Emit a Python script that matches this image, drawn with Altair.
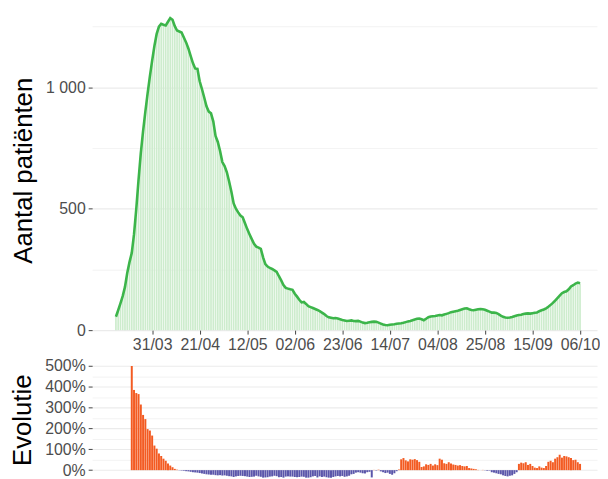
import altair as alt
import pandas as pd

START_DATE = "2020-03-15"

# Number of ICU patients per day
icu = [
    55, 82, 110, 140, 178, 235, 280, 318, 395, 500,
    620, 730, 820, 900, 975, 1045, 1110, 1170, 1220, 1250,
    1262, 1258, 1255, 1270, 1285, 1278, 1252, 1234, 1230, 1226,
    1205, 1185, 1160, 1130, 1100, 1078, 1076, 1025, 993, 958,
    922, 900, 893, 860, 800, 775, 738, 692, 676, 650,
    612, 570, 522, 500, 485, 472, 465, 440, 416, 395,
    375, 356, 344, 340, 335, 300, 272, 262, 256, 252,
    246, 240, 222, 205, 186, 174, 171, 168, 166, 150,
    138, 125, 114, 116, 108, 99, 95, 91, 87, 83,
    78, 72, 66, 58, 53, 51, 49, 50, 48, 45,
    42, 40, 38, 39, 40, 38, 37, 38, 35, 31,
    29, 30, 32, 34, 35, 34, 31, 27, 23, 21,
    20, 22, 23, 24, 26, 27, 28, 30, 33, 36,
    38, 41, 44, 47, 48, 45, 41, 47, 53, 56,
    57, 58, 60, 62, 61, 64, 67, 70, 74, 76,
    78, 80, 83, 86, 89, 90, 86, 83, 82, 84,
    86, 87, 86, 84, 80, 76, 72, 72, 71, 66,
    60, 55, 52, 51, 52, 54, 57, 60, 62, 63,
    66, 68, 69, 68, 70, 72, 73, 78, 82, 85,
    90, 96, 104, 112, 122, 132, 142, 152, 157, 160,
    168, 180, 185, 192, 196, 193,
]

# Evolution (fraction)
evolution = [
    None, None, None, None, None, None, None, 5.00, 3.85, 3.70,
    3.65, 3.15, 2.65, 2.45, 1.97, 1.90, 1.66, 1.18, 1.03, 0.80,
    0.68, 0.55, 0.45, 0.32, 0.22, 0.14, 0.06, 0.02, -0.01, -0.02,
    -0.03, -0.05, -0.06, -0.08, -0.10, -0.11, -0.12, -0.14, -0.16, -0.18,
    -0.20, -0.21, -0.22, -0.22, -0.24, -0.25, -0.24, -0.26, -0.25, -0.27,
    -0.29, -0.30, -0.33, -0.30, -0.28, -0.27, -0.28, -0.29, -0.31, -0.33,
    -0.32, -0.31, -0.27, -0.30, -0.32, -0.36, -0.35, -0.34, -0.31, -0.30,
    -0.27, -0.29, -0.34, -0.33, -0.36, -0.31, -0.30, -0.31, -0.31, -0.33,
    -0.34, -0.33, -0.31, -0.32, -0.37, -0.36, -0.34, -0.30, -0.28, -0.35,
    -0.30, -0.33, -0.31, -0.34, -0.38, -0.36, -0.33, -0.30, -0.28, -0.30,
    -0.28, -0.32, -0.30, -0.27, -0.20, -0.18, -0.12, -0.10, -0.12, -0.15,
    -0.16, -0.10, -0.08, -0.35, 0.01, -0.02, 0.02, -0.06, -0.10, -0.14,
    -0.12, -0.18, -0.22, -0.15, -0.05, 0.03, 0.52, 0.58, 0.47, 0.42,
    0.52, 0.50, 0.53, 0.48, 0.40, 0.15, 0.18, 0.28, 0.25, 0.30,
    0.22, 0.28, 0.24, 0.55, 0.50, 0.33, 0.30, 0.38, 0.32, 0.27,
    0.25, 0.22, 0.24, 0.20, 0.18, 0.20, 0.10, 0.08, 0.06, 0.04,
    0.01, 0.00, 0.01, -0.01, -0.03, -0.02, -0.10, -0.12, -0.15, -0.18,
    -0.20, -0.25, -0.28, -0.30, -0.27, -0.25, -0.18, -0.10, 0.30, 0.36,
    0.33, 0.38, 0.25, 0.30, 0.20, 0.12, 0.10, 0.18, 0.12, 0.10,
    0.20, 0.40, 0.45, 0.38, 0.55, 0.62, 0.74, 0.60, 0.68, 0.66,
    0.62, 0.58, 0.48, 0.50, 0.38, 0.30,
]

tick_dates = ["2020-03-31", "2020-04-21", "2020-05-12", "2020-06-02", "2020-06-23",
              "2020-07-14", "2020-08-04", "2020-08-25", "2020-09-15", "2020-10-06"]

dates = pd.date_range(START_DATE, periods=len(icu), freq="D").strftime("%Y-%m-%d").tolist()
df = pd.DataFrame({"date": dates, "icu": icu, "evo": evolution})


def dt(s, h=0):
    y, m, d = (int(p) for p in s.split("-"))
    return alt.DateTime(year=y, month=m, date=d, hours=h, utc=True)


x_scale = alt.Scale(type="utc", domain=[dt("2020-03-04", 12), dt("2020-10-13", 12)], padding=0)
tick_vals = [dt(s) for s in tick_dates]

GREEN_LINE = "#3cb54a"
GREEN_BAR = "#cdeccd"
ORANGE = "#f35b22"
BLUE = "#5b56aa"
LABEL_COL = "#4d4d4d"

y_top_axis = alt.Axis(
    values=[0, 250, 500, 750, 1000, 1250],
    labelExpr="datum.value % 500 === 0 ? replace(format(datum.value, ','), ',', ' ') : ''",
    tickOpacity={"condition": {"test": "datum.value % 500 === 0", "value": 1}, "value": 0},
    gridWidth={"condition": {"test": "datum.value % 500 === 0", "value": 1.1}, "value": 0.6},
    title="Aantal patiënten",
)

x_top_axis = alt.Axis(values=tick_vals, format="%d/%m", title=None, grid=False,
                      labelFlush=False, labelOverlap=False)

bars = alt.Chart(df).mark_bar(color=GREEN_BAR, size=1.7).encode(
    x=alt.X("date:T", scale=x_scale, axis=x_top_axis),
    y=alt.Y("icu:Q", scale=alt.Scale(domain=[0, 1317], nice=False, zero=False), axis=y_top_axis),
)
line = alt.Chart(df).mark_line(color=GREEN_LINE, strokeWidth=2.6).encode(
    x="date:T",
    y="icu:Q",
)
top = alt.layer(bars, line).properties(width=510, height=323)

y_bot_axis = alt.Axis(
    values=[0, 0.5, 1, 1.5, 2, 2.5, 3, 3.5, 4, 4.5, 5],
    format=".0%",
    labelExpr="datum.value % 1 === 0 ? datum.label : ''",
    tickOpacity={"condition": {"test": "datum.value % 1 === 0", "value": 1}, "value": 0},
    gridWidth={"condition": {"test": "datum.value % 1 === 0", "value": 1.1}, "value": 0.6},
    title="Evolutie",
)

bottom = alt.Chart(df).transform_filter("isValid(datum.evo)").mark_bar(size=2.0).encode(
    x=alt.X("date:T", scale=x_scale, axis=None),
    y=alt.Y("evo:Q", scale=alt.Scale(domain=[-0.36, 5.2], nice=False, clamp=True), axis=y_bot_axis),
    color=alt.condition("datum.evo >= 0", alt.value(ORANGE), alt.value(BLUE)),
).properties(width=510, height=117)

chart = alt.vconcat(top, bottom, spacing=5).properties(
    padding={"left": 2, "top": 0, "right": 0, "bottom": 0}
).configure_view(stroke=None).configure_axis(
    labelFont="Liberation Sans",
    titleFont="Liberation Sans",
    labelFontSize=16,
    labelColor=LABEL_COL,
    titleFontSize=26,
    titleFontWeight="normal",
    titleColor="#000000",
    tickColor="#444444",
    tickSize=4,
    labelPadding=3,
    titlePadding=9,
    domain=False,
    gridColor="#ebebeb",
)

chart.save("out.html", embed_options={"renderer": "svg", "actions": False})
